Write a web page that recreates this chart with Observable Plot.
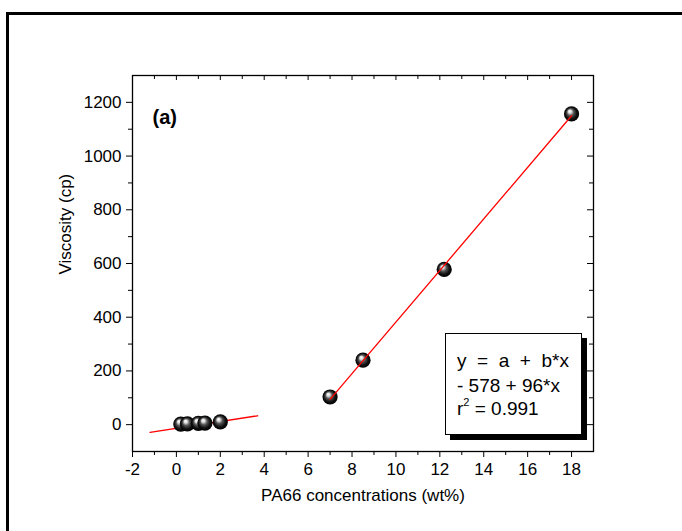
<!DOCTYPE html>
<html><head><meta charset="utf-8">
<script src="https://cdn.jsdelivr.net/npm/d3@7"></script>
<script src="https://cdn.jsdelivr.net/npm/@observablehq/plot@0.6"></script>
<style>body{margin:0;background:#fff} svg{display:block}</style>
</head><body><div id="chart"></div>
<script>
// Data
const conc = [0.2, 0.5, 1.0, 1.3, 2.0, 7.0, 8.5, 12.2, 18.0];
const visc = [2, 3, 5, 6, 10, 103, 240, 578, 1157];
const fitLowX = [-1.2, 3.7];
const fitLowY = [-29, 33];
const fitHighX = [7, 18];
const fitHighY = [94, 1150];
const xMajor = [-2, 0, 2, 4, 6, 8, 10, 12, 14, 16, 18];
const xMinor = [-1, 1, 3, 5, 7, 9, 11, 13, 15, 17];
const yMajor = [0, 200, 400, 600, 800, 1000, 1200];
const yMinor = [100, 300, 500, 700, 900, 1100];
const legendLines = ["y  =  a  +  b*x", "- 578 + 96*x", "r", "2", " = 0.991"];
const panelLabel = "(a)";
const xTitle = "PA66 concentrations (wt%)";
const yTitle = "Viscosity (cp)";

const points = conc.map((c, i) => ({x: c, y: visc[i]}));
const lowFit = fitLowX.map((x, i) => ({x, y: fitLowY[i]}));
const highFit = fitHighX.map((x, i) => ({x, y: fitHighY[i]}));

const W = 682, H = 531, mL = 132, mR = 89, mT = 75, mB = 80;
const innerW = W - mL - mR, innerH = H - mT - mB;
const font = "Arial, 'Liberation Sans', sans-serif";

const chart = Plot.plot({
  width: W, height: H,
  marginLeft: mL, marginRight: mR, marginTop: mT, marginBottom: mB,
  style: {fontFamily: font, fontSize: "17px", background: "white", color: "black", overflow: "visible"},
  x: {domain: [-2, 19]},
  y: {domain: [-100, 1300]},
  marks: [
    Plot.axisX({ticks: xMajor, tickSize: 6, tickPadding: 5, tickFormat: d => String(d), label: null, fontSize: 17, stroke: "black"}),
    Plot.tickX(xMinor, {x: d => d, insetTop: innerH, insetBottom: -4, stroke: "black"}),
    Plot.axisY({ticks: yMajor, tickSize: 6, tickPadding: 5, tickFormat: d => String(d), label: null, fontSize: 17, stroke: "black"}),
    Plot.tickY(yMinor, {y: d => d, insetLeft: -4, insetRight: innerW, stroke: "black"}),
    // inward ticks top & right
    Plot.tickX(xMajor, {x: d => d, insetBottom: innerH - 5, stroke: "black"}),
    Plot.tickX(xMinor, {x: d => d, insetBottom: innerH - 4, stroke: "black"}),
    Plot.tickY(yMajor, {y: d => d, insetLeft: innerW - 6, stroke: "black"}),
    Plot.tickY(yMinor, {y: d => d, insetLeft: innerW - 4, stroke: "black"}),
    Plot.frame({stroke: "black", strokeWidth: 1.3}),
    Plot.line(lowFit, {x: "x", y: "y", stroke: "red", strokeWidth: 1.3}),
    Plot.dot(points, {x: "x", y: "y", r: 7.6, fill: "url(#sphere)", stroke: "none"}),
    Plot.line(highFit, {x: "x", y: "y", stroke: "red", strokeWidth: 1.3}),
    Plot.text([panelLabel], {frameAnchor: "top-left", dx: 20, dy: 34, textAnchor: "start", fontWeight: "bold", fontSize: 20}),
    Plot.text([xTitle], {frameAnchor: "bottom", dy: 49, fontSize: 17}),
    Plot.text([yTitle], {frameAnchor: "left", dx: -67, dy: 11, rotate: -90, fontSize: 17})
  ]
});

document.getElementById("chart").appendChild(chart);
const svg = d3.select(chart);

// gradient for spheres
const defs = svg.insert("defs", ":first-child");
const g = defs.append("radialGradient").attr("id", "sphere")
  .attr("cx", "50%").attr("cy", "50%").attr("r", "50%")
  .attr("fx", "36%").attr("fy", "30%");
g.append("stop").attr("offset", "0%").attr("stop-color", "#ffffff");
g.append("stop").attr("offset", "20%").attr("stop-color", "#e0e0e0");
g.append("stop").attr("offset", "45%").attr("stop-color", "#555555");
g.append("stop").attr("offset", "75%").attr("stop-color", "#111111");
g.append("stop").attr("offset", "100%").attr("stop-color", "#000000");

// outer frame
svg.append("rect").attr("x", 7.5).attr("y", 13.5).attr("width", 720).attr("height", 600)
  .attr("fill", "none").attr("stroke", "black").attr("stroke-width", 3);

// legend box
const lg = svg.append("g").attr("font-family", font).attr("font-size", 19).attr("text-anchor", "start");
lg.append("rect").attr("x", 450).attr("y", 338).attr("width", 137).attr("height", 102).attr("fill", "black");
lg.append("rect").attr("x", 445.5).attr("y", 333.5).attr("width", 136).attr("height", 101)
  .attr("fill", "white").attr("stroke", "black").attr("stroke-width", 1);
lg.append("text").attr("x", 457).attr("y", 367).style("white-space", "pre").text(legendLines[0]);
lg.append("text").attr("x", 457).attr("y", 392).style("white-space", "pre").text(legendLines[1]);
const t3 = lg.append("text").attr("x", 457).attr("y", 415).style("white-space", "pre");
t3.append("tspan").text(legendLines[2]);
t3.append("tspan").attr("font-size", 11).attr("dy", -9).text(legendLines[3]);
t3.append("tspan").attr("dy", 9).text(legendLines[4]);
</script>
</body></html>
